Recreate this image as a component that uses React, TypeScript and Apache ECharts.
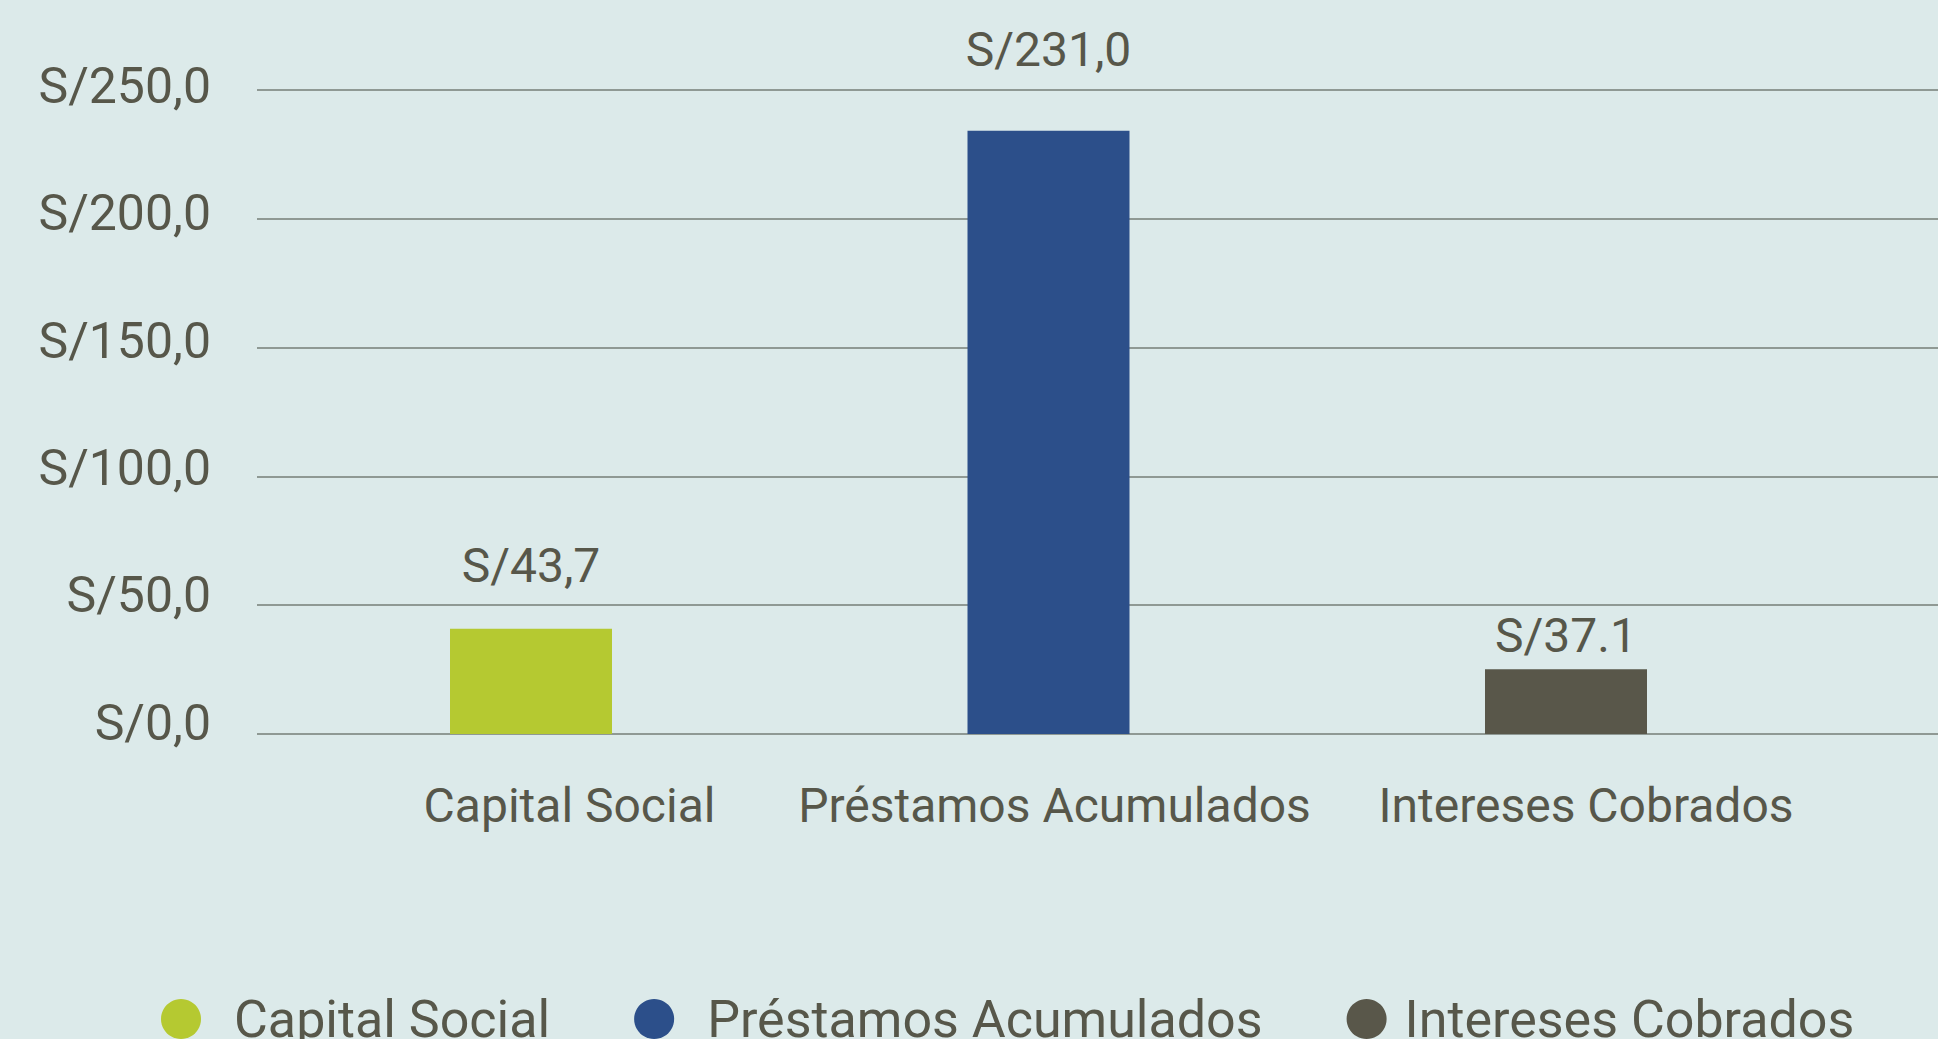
import React, { useEffect, useRef } from "react";
import * as echarts from "echarts";

// ---- data ----
const categories = ["Capital Social", "Préstamos Acumulados", "Intereses Cobrados"];
const seriesNames = ["Capital Social", "Préstamos Acumulados", "Intereses Cobrados"];
// bar heights as drawn in the picture
const barValues = [40.9, 234.2, 25.1];
// value labels as printed above the bars
const valueLabels = ["S/43,7", "S/231,0", "S/37.1"];
const yTicks = [0, 50, 100, 150, 200, 250];

// ---- styles ----
const colors = ["#b5c931", "#2c4f8a", "#59574a"];
const textColor = "#57574a";
const bg = "#dceaea";
const gridColor = "#8f9994";
const labelDistances = [39, 57, 10];
const catLabelPad = [77, 12, 40];
const legendTextPad = [28, 28, 13];
// upward nudge (px) of each y tick label, from bottom tick to top tick
const yLabelLift = [11, 10, 8, 7, 6, 4];
const FONT = "Roboto, 'Liberation Sans', sans-serif";

export default function App() {
  const ref = useRef<HTMLDivElement>(null);
  useEffect(() => {
    if (!ref.current) return;
    const chart = echarts.init(ref.current, null, { renderer: "svg" });
    const yMin = yTicks[0];
    const yMax = yTicks[yTicks.length - 1];
    const yInterval = yTicks[1] - yTicks[0];
    const rich: Record<string, any> = {};
    categories.forEach((_, i) => {
      rich["c" + i] = {
        fontSize: 48,
        lineHeight: 48,
        color: textColor,
        fontFamily: FONT,
        padding: [0, 0, 0, catLabelPad[i]],
      };
    });
    const yRich: Record<string, any> = {};
    yTicks.forEach((_, i) => {
      yRich["y" + i] = {
        fontSize: 50,
        lineHeight: 50,
        color: textColor,
        fontFamily: FONT,
        padding: [0, 0, yLabelLift[i] * 2, 0],
      };
    });
    const option: any = {
      animation: false,
      backgroundColor: bg,
      textStyle: { fontFamily: FONT },
      grid: [
        { left: 257, right: 0, top: 90, bottom: 305, containLabel: false },
        { left: 272.25, right: 113.25, top: 90, bottom: 305, containLabel: false },
      ],
      xAxis: [
        { type: "category", gridIndex: 0, data: categories, show: false },
        {
          type: "category",
          gridIndex: 1,
          data: categories,
          axisLine: { show: false },
          axisTick: { show: false },
          axisLabel: {
            margin: 47,
            formatter: (v: string) => {
              const i = categories.indexOf(v);
              return `{c${i}|${v}}`;
            },
            rich,
          },
        },
      ],
      yAxis: [
        {
          type: "value",
          gridIndex: 0,
          min: yMin,
          max: yMax,
          interval: yInterval,
          axisLine: { show: false },
          axisTick: { show: false },
          splitLine: { show: true, lineStyle: { color: gridColor, width: 2 } },
          axisLabel: {
            margin: 46,
            fontSize: 50,
            color: textColor,
            fontFamily: FONT,
            formatter: (v: number) => {
              const i = yTicks.indexOf(v);
              return `{y${i}|S/${v.toFixed(1).replace(".", ",")}}`;
            },
            rich: yRich,
          },
        },
        {
          type: "value",
          gridIndex: 1,
          min: yMin,
          max: yMax,
          interval: yInterval,
          show: false,
          splitLine: { show: false },
        },
      ],
      legend: {
        left: 161,
        top: 993,
        padding: 0,
        icon: "circle",
        itemWidth: 40,
        itemHeight: 40,
        itemGap: 84,
        textStyle: {
          fontSize: 52,
          lineHeight: 52,
          color: textColor,
          fontFamily: FONT,
          padding: [0, 0, 0, legendTextPad[0]],
        },
        data: seriesNames.map((n, i) => ({
          name: n,
          textStyle: { padding: [0, 0, 0, legendTextPad[i]] },
        })),
      },
      series: seriesNames.map((name, si) => ({
        name,
        type: "bar",
        xAxisIndex: 1,
        yAxisIndex: 1,
        barWidth: 162,
        barGap: "-100%",
        itemStyle: { color: colors[si] },
        data: categories.map((_, ci) =>
          ci === si
            ? {
                value: barValues[ci],
                label: {
                  show: true,
                  position: "top",
                  distance: labelDistances[ci],
                  formatter: valueLabels[ci],
                  fontSize: 48,
                  lineHeight: 48,
                  color: textColor,
                  fontFamily: FONT,
                },
              }
            : "-"
        ),
      })),
    };
    chart.setOption(option);
    return () => chart.dispose();
  }, []);
  return (
    <div
      ref={ref}
      style={{ position: "absolute", left: 0, top: 0, width: 1938, height: 1039 }}
    />
  );
}
